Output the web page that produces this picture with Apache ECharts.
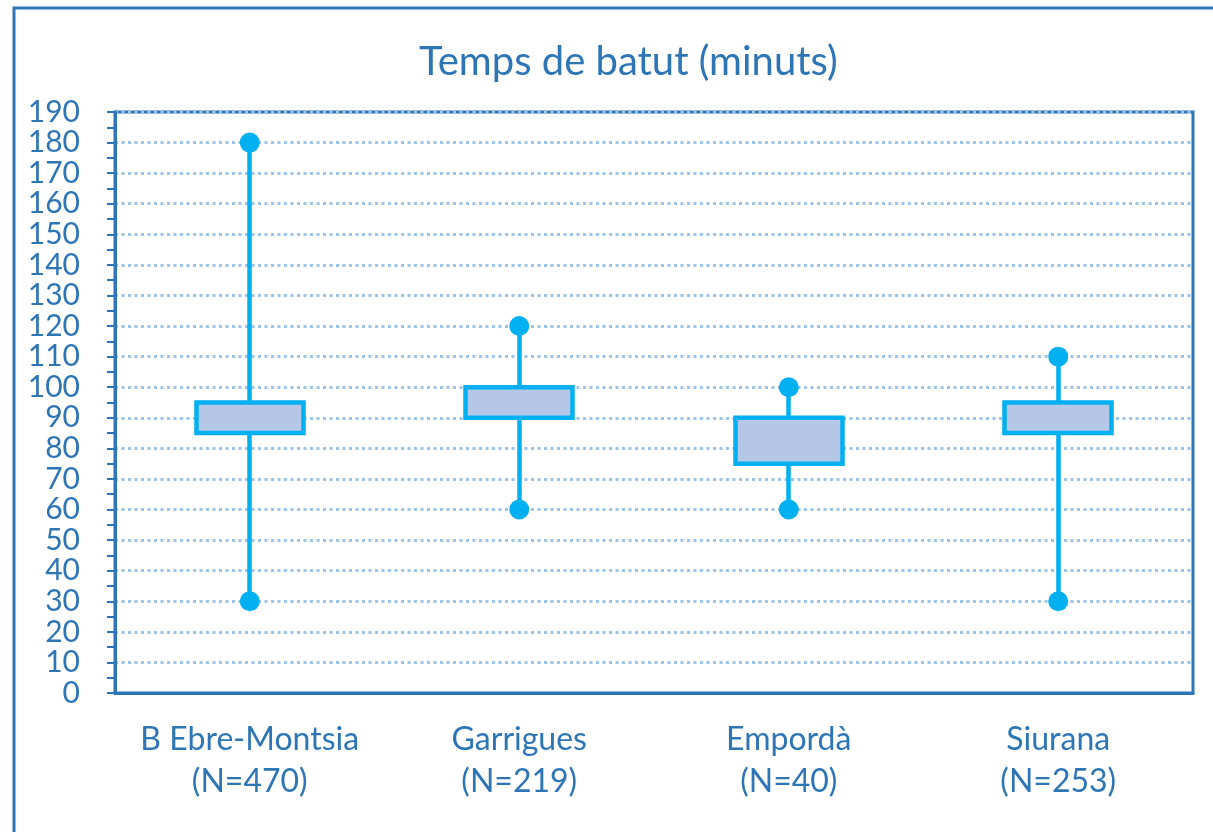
<!DOCTYPE html>
<html>
<head>
<meta charset="utf-8">
<script src="https://cdn.jsdelivr.net/npm/echarts@6/dist/echarts.min.js"></script>
<style>
  html, body { margin: 0; padding: 0; background: #fff; }
  #chart { width: 1213px; height: 832px; }
</style>
</head>
<body>
<div id="chart"></div>
<script>
const categories = ['B Ebre-Montsia', 'Garrigues', 'Empordà', 'Siurana']
const counts = [470, 219, 40, 253]
const minValues = [30, 60, 60, 30]
const q1Values = [85, 90, 75, 85]
const q3Values = [95, 100, 90, 95]
const maxValues = [180, 120, 100, 110]

const blue = '#2e75b6'
const cyan = '#00b0f0'

const chart = echarts.init(document.getElementById('chart'))

// candlestick: [open, close, lowest, highest] -> box q1..q3, whiskers min..max
const boxData = categories.map((c, i) => [q1Values[i], q3Values[i], minValues[i], maxValues[i]])
const dotData = []
categories.forEach((c, i) => {
  dotData.push([c, minValues[i]])
  dotData.push([c, maxValues[i]])
})

chart.setOption({
  backgroundColor: '#fff',
  animation: false,
  title: {
    text: 'Temps de batut (minuts)',
    left: 414,
    top: 37,
    textStyle: { color: blue, fontFamily: 'Lato', fontSize: 40, fontWeight: 'normal' },
  },
  graphic: [
    {
      type: 'rect',
      shape: { x: 14, y: 8, width: 1400, height: 1000 },
      style: { fill: 'none', stroke: blue, lineWidth: 3 },
      silent: true,
    },
  ],
  grid: {
    left: 115, right: 20, top: 112, bottom: 139,
    show: true, borderColor: blue, borderWidth: 3,
  },
  xAxis: {
    type: 'category',
    data: categories,
    axisLine: { lineStyle: { color: blue, width: 3 } },
    axisTick: { show: false },
    axisLabel: {
      interval: 0, hideOverlap: false,
      color: blue, fontFamily: 'Lato', fontSize: 32, lineHeight: 42, margin: 26,
      formatter: (v, i) => v + '\n(N=' + counts[i] + ')',
    },
  },
  yAxis: {
    type: 'value',
    min: 0, max: 190, interval: 10,
    axisLine: { show: true, lineStyle: { color: blue, width: 3 } },
    axisTick: { show: true, length: 8, lineStyle: { color: blue, width: 2 } },
    minorTick: { show: true, splitNumber: 2, length: 8, lineStyle: { color: blue, width: 2 } },
    axisLabel: { color: blue, fontFamily: 'Lato', fontSize: 30, margin: 35 },
    splitLine: { lineStyle: { color: '#9dc3e6', width: 3, type: [3, 3.5] } },
  },
  series: [
    {
      type: 'candlestick',
      data: boxData,
      barWidth: '40%',
      itemStyle: {
        color: '#b4c7e7', color0: '#b4c7e7',
        borderColor: cyan, borderColor0: cyan, borderWidth: 4.5,
      },
    },
    {
      type: 'scatter',
      data: dotData,
      symbolSize: 20,
      itemStyle: { color: cyan, opacity: 1 },
      z: 3,
    },
  ],
})
</script>
</body>
</html>
